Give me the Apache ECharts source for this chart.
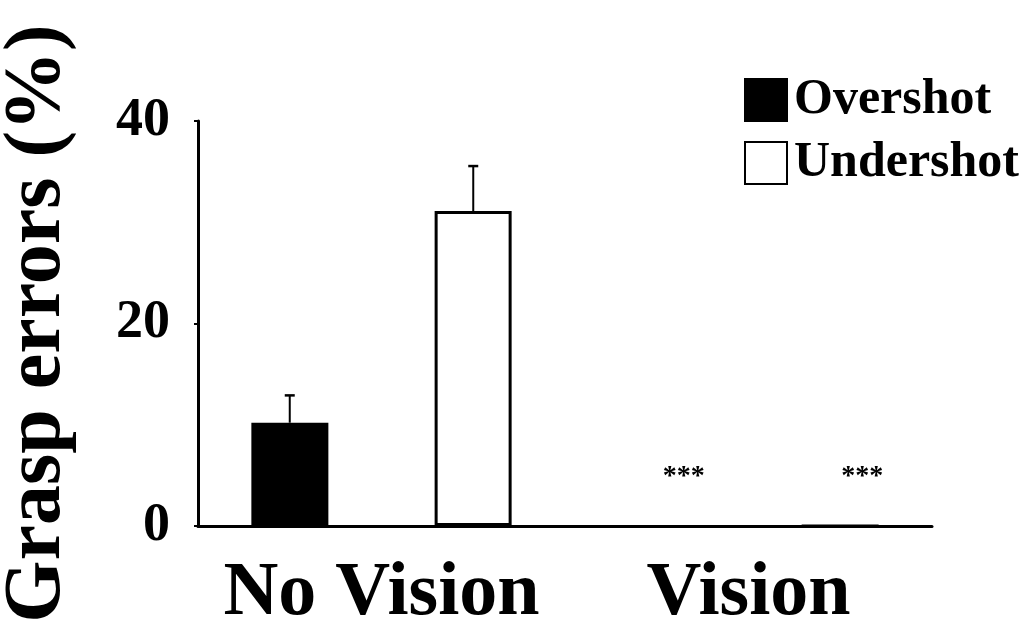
<!DOCTYPE html>
<html>
<head>
<meta charset="utf-8">
<script src="https://cdn.jsdelivr.net/npm/echarts@6/dist/echarts.min.js"></script>
<style>
html,body{margin:0;padding:0;background:#fff;}
#chart{width:1033px;height:628px;}
</style>
</head>
<body>
<div id="chart"></div>
<script>
const categories = ['No Vision', 'Vision'];
const overshot = [10.2, 0];
const undershot = [31.1, 0];
const overshotErr = [2.7, 0];
const undershotErr = [4.45, 0];
const overshotSig = ['', '***'];
const undershotSig = ['', '***'];
const yTicks = [0, 20, 40];

const FONT = '"Liberation Serif", "Times New Roman", serif';
const chart = echarts.init(document.getElementById('chart'));

function errorSeries(values, errs, side) {
  return {
    type: 'custom',
    silent: true,
    z: 5,
    data: values.map((v, i) => [i, v, errs[i]]),
    renderItem: function (params, api) {
      const idx = api.value(0);
      const v = api.value(1);
      const e = api.value(2);
      if (!e) return null;
      const band = api.size([1, 0])[0];
      const shift = side * band * 0.25;
      const p0 = api.coord([idx, v]);
      const p1 = api.coord([idx, v + e]);
      const x = p0[0] + shift;
      return {
        type: 'group',
        children: [
          { type: 'line', shape: { x1: x, y1: p0[1], x2: x, y2: p1[1] }, style: { stroke: '#000', lineWidth: 2 } },
          { type: 'line', shape: { x1: x - 5, y1: p1[1], x2: x + 5, y2: p1[1] }, style: { stroke: '#000', lineWidth: 2.5 } }
        ]
      };
    }
  };
}

chart.setOption({
  animation: false,
  backgroundColor: '#fff',
  grid: { left: 198, right: 101, top: 121, bottom: 102, containLabel: false, outerBoundsMode: 'none' },
  legend: {
    orient: 'vertical',
    left: 739,
    top: 70,
    itemWidth: 42,
    itemHeight: 42,
    itemGap: 13,
    icon: 'rect',
    textStyle: { fontFamily: FONT, fontWeight: 'bold', fontSize: 50, color: '#000', padding: [0, 0, 0, 2] },
    data: ['Overshot', 'Undershot']
  },
  xAxis: {
    type: 'category',
    data: categories,
    axisLine: { lineStyle: { color: '#000', width: 3 } },
    axisTick: { length: 6, lineStyle: { color: '#000', width: 3 } },
    axisLabel: { interval: 0, hideOverlap: false, fontFamily: FONT, fontWeight: 'bold', fontSize: 76, color: '#000', margin: 30 }
  },
  yAxis: {
    type: 'value',
    min: 0, max: 40, interval: 20,
    name: 'Grasp errors (%)',
    nameLocation: 'middle',
    nameGap: 120,
    nameTextStyle: { fontFamily: FONT, fontWeight: 'bold', fontSize: 80, color: '#000' },
    splitLine: { show: false },
    axisLine: { show: true, lineStyle: { color: '#000', width: 3 } },
    axisTick: { show: true, length: 4, lineStyle: { color: '#000', width: 2 } },
    axisLabel: {
      fontFamily: FONT, fontWeight: 'bold', fontSize: 54, color: '#000', margin: 28,
      formatter: v => (yTicks.indexOf(v) >= 0 ? String(v) : '')
    }
  },
  series: [
    {
      name: 'Overshot', type: 'bar', data: overshot, barWidth: 77, barGap: '138%',
      itemStyle: { color: '#000', borderColor: '#000', borderWidth: 2 },
      label: {
        show: true, position: 'top', distance: 34, offset: [27, 0],
        fontFamily: FONT, fontWeight: 'bold', fontSize: 28, color: '#000',
        formatter: p => overshotSig[p.dataIndex]
      }
    },
    {
      name: 'Undershot', type: 'bar', data: undershot, barWidth: 77,
      itemStyle: { color: '#fff', borderColor: '#000', borderWidth: 3 },
      label: {
        show: true, position: 'top', distance: 34, offset: [22, 0],
        fontFamily: FONT, fontWeight: 'bold', fontSize: 28, color: '#000',
        formatter: p => undershotSig[p.dataIndex]
      }
    },
    errorSeries(overshot, overshotErr, -1),
    errorSeries(undershot, undershotErr, 1)
  ]
});
</script>
</body>
</html>
